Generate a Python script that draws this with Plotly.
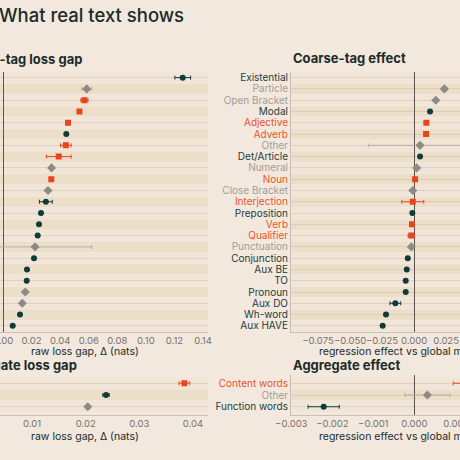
import plotly.graph_objects as go

# ---- data ----
left_cats = ["Existential", "Particle", "Adjective", "Adverb", "Noun", "Modal", "Verb",
             "Interjection", "Open Bracket", "Qualifier", "Numeral", "Aux DO", "Det/Article",
             "Preposition", "Wh-word", "Other", "Pronoun", "Conjunction", "Aux BE",
             "Close Bracket", "Punctuation", "TO", "Aux HAVE"]
left_gap = [0.1258, 0.0586, 0.0570, 0.0535, 0.0455, 0.0443, 0.0440, 0.0390, 0.0340, 0.0338,
            0.0315, 0.0300, 0.0266, 0.0252, 0.0243, 0.0224, 0.0217, 0.0168, 0.0166, 0.0156,
            0.0135, 0.0119, 0.0068]
left_err = [0.0055, 0.0035, 0.0025, 0.0012, 0.0010, 0.0010, 0.0037, 0.0087, 0.0010, 0.0010,
            0.0010, 0.0045, 0.0008, 0.0008, 0.0008, 0.0396, 0.0008, 0.0008, 0.0008, 0.0010,
            0.0010, 0.0010, 0.0008]
left_cls = ["f", "o", "c", "c", "c", "f", "c", "c", "o", "c", "o", "f", "f", "f", "f", "o",
            "f", "f", "f", "o", "o", "f", "f"]

right_cats = ["Existential", "Particle", "Open Bracket", "Modal", "Adjective", "Adverb", "Other",
              "Det/Article", "Numeral", "Noun", "Close Bracket", "Interjection", "Preposition",
              "Verb", "Qualifier", "Punctuation", "Conjunction", "Aux BE", "TO", "Pronoun",
              "Aux DO", "Wh-word", "Aux HAVE"]
right_eff = [0.0500, 0.0237, 0.0170, 0.0125, 0.0096, 0.0094, 0.0047, 0.0047, 0.0021, 0.0008,
             -0.0010, -0.0010, -0.0013, -0.0016, -0.0021, -0.0021, -0.0049, -0.0057, -0.0065,
             -0.0065, -0.0146, -0.0219, -0.0245]
right_err = [0.0030, 0.0020, 0.0010, 0.0008, 0.0008, 0.0008, 0.0404, 0.0008, 0.0010, 0.0008,
             0.0008, 0.0086, 0.0008, 0.0008, 0.0025, 0.0012, 0.0008, 0.0008, 0.0008, 0.0008,
             0.0042, 0.0008, 0.0008]
right_cls = ["f", "o", "o", "f", "c", "c", "o", "f", "o", "c", "o", "c", "f", "c", "c", "o",
             "f", "f", "f", "f", "f", "f", "f"]

agg_left_cats = ["Content words", "Function words", "Other"]
agg_left_gap = [0.0384, 0.0238, 0.0204]
agg_left_err = [0.0010, 0.0006, 0.0003]
agg_left_cls = ["c", "f", "o"]

agg_right_cats = ["Content words", "Other", "Function words"]
agg_right_eff = [0.00125, 0.00032, -0.00221]
agg_right_err = [0.00030, 0.00055, 0.00038]
agg_right_cls = ["c", "o", "f"]

# ---- style ----
BG = "#f2e8dd"
INK = "#1c2b2b"
FONT = "Inter"
style = {
    "f": dict(color="#0f3b3a", err="#0f3b3a", symbol="circle", size=6),
    "c": dict(color="#e8451c", err="#e8451c", symbol="square", size=6),
    "o": dict(color="#8f8a85", err="#b5ada5", symbol="diamond", size=7),
}
label_col = {"f": "#1d3d3c", "c": "#e8552b", "o": "#a39d97"}
GRID = "rgba(205,188,166,0.5)"

W = H = 460


def px(v, axis):
    # pixel -> paper coordinate
    return v / W if axis == "x" else 1 - v / H


fig = go.Figure()


def add_panel(cats, vals, errs, cls, xa, ya):
    for k in ["f", "c", "o"]:
        idx = [i for i, c in enumerate(cls) if c == k]
        if not idx:
            continue
        s = style[k]
        fig.add_trace(go.Scatter(
            x=[vals[i] for i in idx], y=[cats[i] for i in idx],
            mode="markers", xaxis=xa, yaxis=ya, showlegend=False,
            marker=dict(color=s["color"], symbol=s["symbol"], size=s["size"]),
            error_x=dict(type="data", array=[errs[i] for i in idx], color=s["err"],
                         thickness=1, width=2),
        ))


add_panel(left_cats, left_gap, left_err, left_cls, "x", "y")
add_panel(right_cats, right_eff, right_err, right_cls, "x2", "y2")
add_panel(agg_left_cats, agg_left_gap, agg_left_err, agg_left_cls, "x3", "y3")
add_panel(agg_right_cats, agg_right_eff, agg_right_err, agg_right_cls, "x4", "y4")

# alternating row bands
shapes = []
for xa, ya, n in [("x", "y", len(left_cats)), ("x2", "y2", len(right_cats)),
                  ("x3", "y3", len(agg_left_cats)), ("x4", "y4", len(agg_right_cats))]:
    for i in range(n):
        col = "rgba(230,204,170,0.38)" if i % 2 == 1 else "rgba(240,222,204,0.30)"
        shapes.append(dict(type="rect", xref=xa + " domain", yref=ya, x0=0, x1=1,
                           y0=i - 0.45, y1=i + 0.45, fillcolor=col, line_width=0,
                           layer="below"))

tick_font = dict(family=FONT, size=9.5, color="#77716b")
axis_common = dict(showgrid=False, zeroline=True, zerolinecolor="#5a5550", zerolinewidth=1,
                   showline=True, linecolor="#c9bfb4", linewidth=1, ticks="", tickangle=0,
                   ticklabeloverflow="allow", tickfont=tick_font, fixedrange=True,
                   automargin=False)
cat_common = dict(type="category", categoryorder="array", showgrid=True, gridcolor=GRID,
                  gridwidth=1, zeroline=False, ticks="", fixedrange=True, automargin=False)


def colored(cats, cls):
    return ["<span style='color:%s'>%s</span>" % (label_col[c], t) for t, c in zip(cats, cls)]


top_dom = [px(331.5, "y"), px(72, "y")]
bot_dom = [px(415, "y"), px(375, "y")]
left_dom = [0, 208 / W]
right_dom = [291 / W, 1]

fig.update_layout(
    width=W, height=H, margin=dict(l=0, r=0, t=0, b=0, autoexpand=False),
    paper_bgcolor=BG, plot_bgcolor=BG,
    font=dict(family=FONT, color=INK),
    xaxis=dict(domain=left_dom, range=[-0.0021, 0.1435], dtick=0.02, tickformat=".2f",
               anchor="y", **axis_common),
    yaxis=dict(domain=top_dom, categoryarray=left_cats, range=[len(left_cats) - 0.5, -0.5],
               showticklabels=False, showline=False, anchor="x", **cat_common),
    xaxis2=dict(domain=right_dom, range=[-0.0961, 0.0359], dtick=0.025, tickformat=".3f",
                anchor="y2", **axis_common),
    yaxis2=dict(domain=top_dom, categoryarray=right_cats, range=[len(right_cats) - 0.5, -0.5],
                tickmode="array", tickvals=right_cats, ticktext=colored(right_cats, right_cls),
                tickfont=dict(family=FONT, size=10), showline=True, linecolor="#c9bfb4",
                anchor="x2", **cat_common),
    xaxis3=dict(domain=left_dom, range=[0.00404, 0.0428], dtick=0.01, tickformat=".2f",
                anchor="y3", **axis_common),
    yaxis3=dict(domain=bot_dom, categoryarray=agg_left_cats, range=[2.7, -0.7],
                showticklabels=False, showline=False, anchor="x3", **cat_common),
    xaxis4=dict(domain=right_dom, range=[-0.003007, 0.001115], dtick=0.001, tickformat=".3f",
                anchor="y4", **axis_common),
    yaxis4=dict(domain=bot_dom, categoryarray=agg_right_cats, range=[2.7, -0.7],
                tickmode="array", tickvals=agg_right_cats,
                ticktext=colored(agg_right_cats, agg_right_cls),
                tickfont=dict(family=FONT, size=10), showline=True, linecolor="#c9bfb4",
                anchor="x4", **cat_common),
    shapes=shapes,
)


def note(text, x, y, size, anchor="left", bold=False, color=INK, weight=None):
    t = "<b>%s</b>" % text if bold else text
    f = dict(family=FONT, size=size, color=color)
    if weight:
        f["weight"] = weight
    fig.add_annotation(text=t, x=px(x, "x"), y=px(y, "y"), xref="paper", yref="paper",
                       xanchor=anchor, yanchor="middle", showarrow=False, font=f)


note("What real text shows", -3, 15, 18.5, weight=500)
note("Coarse-tag loss gap", 84, 59, 13, anchor="right", bold=True)
note("Coarse-tag effect", 291, 58, 13, bold=True)
note("raw loss gap, Δ (nats)", 85, 351.5, 10.5, anchor="center")
note("regression effect vs global mean", 317, 351.5, 10.5)
note("Aggregate loss gap", 79, 365, 13, anchor="right", bold=True)
note("Aggregate effect", 291, 365, 13, bold=True)
note("raw loss gap, Δ (nats)", 85, 436, 10.5, anchor="center")
note("regression effect vs global mean", 317, 436, 10.5)

# page has a default 8px body margin; drop it so the figure sits flush in the window
fig.write_html("out.html", config={"displayModeBar": False},
               post_script="document.body.style.margin='0';"
                           "document.body.style.background='%s';" % BG)
